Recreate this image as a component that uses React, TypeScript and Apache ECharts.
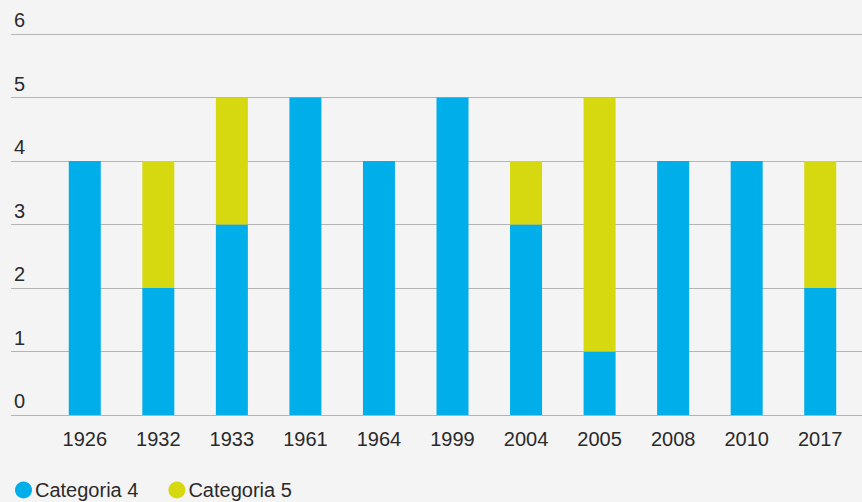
import React, { useEffect, useRef } from "react";
import * as echarts from "echarts";

const categories = ["1926", "1932", "1933", "1961", "1964", "1999", "2004", "2005", "2008", "2010", "2017"];
const categoria4 = [4, 2, 3, 5, 4, 5, 3, 1, 4, 4, 2];
const categoria5 = [0, 2, 2, 0, 0, 0, 1, 4, 0, 0, 2];
const yTicks = [0, 1, 2, 3, 4, 5, 6];

const FONT = "'Liberation Sans', Arial, sans-serif";

export default function App() {
  const ref = useRef<HTMLDivElement>(null);
  useEffect(() => {
    if (!ref.current) return;
    const chart = echarts.init(ref.current, undefined, { renderer: "svg" });
    chart.setOption({
      animation: false,
      backgroundColor: "#f4f4f4",
      textStyle: { fontFamily: FONT },
      grid: [
        { left: 11, right: 0, top: 34, bottom: 87, containLabel: false },
        { left: 48, right: 5, top: 34, bottom: 87, containLabel: false },
      ],
      legend: {
        left: 15,
        top: 480,
        padding: 0,
        icon: "circle",
        itemWidth: 17,
        itemHeight: 17,
        itemGap: 30,
        textStyle: { fontSize: 20, color: "#2a2a2a", fontFamily: FONT, padding: [0, 0, 0, -2] },
        data: ["Categoria 4", "Categoria 5"],
      },
      xAxis: [
        { type: "category", gridIndex: 0, data: categories, show: false },
        {
          type: "category",
          gridIndex: 1,
          data: categories,
          axisLine: { show: false },
          axisTick: { show: false },
          axisLabel: { fontSize: 20, color: "#2a2a2a", margin: 14, fontFamily: FONT },
        },
      ],
      yAxis: [
        {
          type: "value",
          gridIndex: 0,
          min: 0,
          max: 6,
          interval: 1,
          axisLine: { show: false },
          axisTick: { show: false },
          splitLine: { show: true, lineStyle: { color: "#b4b4b4", width: 1 } },
          axisLabel: {
            inside: true,
            margin: 3,
            verticalAlign: "bottom",
            padding: [0, 0, 4, 0],
            fontSize: 20,
            color: "#2a2a2a",
            fontFamily: FONT,
            formatter: (v: number) => (yTicks.includes(v) ? String(v) : ""),
          },
        },
        { type: "value", gridIndex: 1, min: 0, max: 6, interval: 1, show: false, splitLine: { show: false } },
      ],
      series: [
        {
          name: "Categoria 4",
          type: "bar",
          stack: "total",
          xAxisIndex: 1,
          yAxisIndex: 1,
          data: categoria4,
          barWidth: 32,
          itemStyle: { color: "#00aee9" },
        },
        {
          name: "Categoria 5",
          type: "bar",
          stack: "total",
          xAxisIndex: 1,
          yAxisIndex: 1,
          data: categoria5,
          barWidth: 32,
          itemStyle: { color: "#d6d810" },
        },
      ],
    });
    return () => chart.dispose();
  }, []);
  return <div ref={ref} style={{ width: 862, height: 502, position: "fixed", left: 0, top: 0 }} />;
}
